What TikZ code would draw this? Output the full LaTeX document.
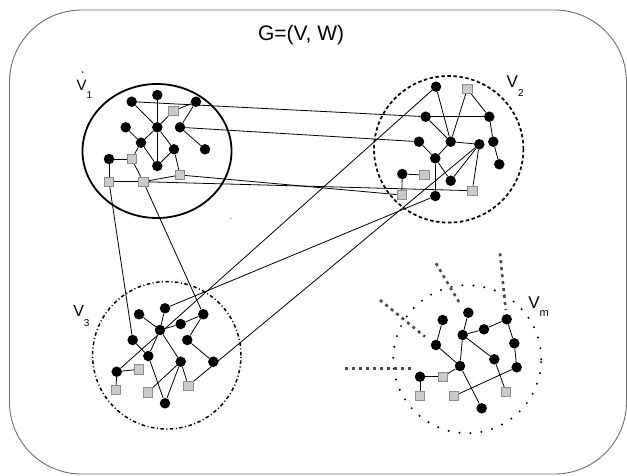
\documentclass[tikz,border=0pt]{standalone}
\usepackage{fontspec}
\setmainfont{Liberation Sans}
\usetikzlibrary{backgrounds}
\definecolor{sqfill}{HTML}{CACACA}
\definecolor{sqedge}{HTML}{8C8C8C}
\definecolor{framecol}{HTML}{6E6E6E}
\definecolor{stubcol}{HTML}{4A4A4A}
\tikzset{
  blk/.style={circle,fill=black,inner sep=0pt,minimum size=10.5pt},
  gsq/.style={rectangle,fill=sqfill,draw=sqedge,line width=0.7pt,inner sep=0pt,minimum size=9.5pt},
  link/.style={line width=0.8pt},
  lbl/.style={inner sep=0pt,outer sep=0pt,anchor=base west},
  stub/.style={line width=2.6pt,stubcol,dash pattern=on 3pt off 4pt},
  ringone/.style={line width=1.8pt},
  ringtwo/.style={line width=1.7pt,dash pattern=on 3.5pt off 2.5pt},
  ringthree/.style={line width=1.5pt,dash pattern=on 3.5pt off 2.5pt on 1pt off 2.5pt},
  ringm/.style={line width=2.2pt,line cap=round,dash pattern=on 0pt off 11pt},
}
\newcommand{\bigV}[3]{{\fontsize{#1}{#1}\selectfont V}{\fontsize{10}{10}\selectfont\raisebox{#2}{#3}}}
\begin{document}
\begin{tikzpicture}[x=1pt,y=-1pt]
\useasboundingbox (0,0) rectangle (627,475);

% outer frame and title
\draw[framecol,line width=0.9pt,rounded corners=72pt] (9.5,10) rectangle (626.5,474);
\node[lbl] (title) at (258,40) {\fontsize{21}{21}\selectfont G=(V, W)};

% cluster outlines
\draw[ringone]   (157,151)   ellipse [x radius=74.5pt, y radius=67pt];
\draw[ringtwo]   (448.7,149.3) ellipse [x radius=74.7pt, y radius=73.3pt];
\draw[ringthree] (166.8,355.3) ellipse [x radius=74.2pt, y radius=73.7pt];
\draw[ringm]     (467.2,359.2) circle [radius=74pt];

% cluster labels
\node[lbl] (lv1) at (76.7,90.7)  {\bigV{15}{-7.6pt}{1}};
\fill (82.7,72) circle [radius=0.8pt];
\fill[gray] (231,218.3) circle [radius=0.7pt];
\node[lbl] (lv2) at (506.7,87.3) {\bigV{17}{-8.7pt}{2}};
\node[lbl] (lv3) at (73.3,316.7) {\bigV{16}{-9.3pt}{3}};
\node[lbl] (lvm) at (528.3,308.3) {{\fontsize{17}{17}\selectfont V}{\fontsize{11}{11}\selectfont\raisebox{-7.7pt}{m}}};

% cluster V1
\node[blk] (a1) at (131.7,101.7) {};
\node[blk] (a2) at (157.3,95) {};
\node[blk] (a3) at (196,101.7) {};
\node[gsq] (s1) at (173.3,111) {};
\node[blk] (a4) at (157.3,127.3) {};
\node[blk] (a5) at (125.7,127.3) {};
\node[blk] (a6) at (180,127.3) {};
\node[blk] (a7) at (141,142.7) {};
\node[blk] (a8) at (174,149.3) {};
\node[blk] (a9) at (205,149.3) {};
\node[blk] (a10) at (157.3,166) {};
\node[blk] (a11) at (109,159) {};
\node[gsq] (s2) at (131.7,159) {};
\node[gsq] (s3) at (109,181.7) {};
\node[gsq] (s4) at (143.3,181.7) {};
\node[gsq] (s5) at (180,175) {};

% cluster V2
\node[blk] (b1) at (436,86.7) {};
\node[gsq] (q1) at (467.3,89) {};
\node[blk] (b2) at (425.7,116.7) {};
\node[blk] (b3) at (489.3,116.7) {};
\node[blk] (b4) at (419,141.7) {};
\node[blk] (b5) at (450.7,141.7) {};
\node[blk] (b6) at (479.3,144.3) {};
\node[blk] (b7) at (493.3,141.7) {};
\node[blk] (b8) at (435.3,158.3) {};
\node[blk] (b9) at (499.3,164.3) {};
\node[blk] (b10) at (402.3,174) {};
\node[gsq] (q2) at (424.3,175) {};
\node[blk] (b11) at (450.7,180.7) {};
\node[gsq] (q3) at (401.7,195) {};
\node[blk] (b12) at (435.3,196) {};
\node[gsq] (q4) at (472.3,190.7) {};

% cluster V3
\node[blk] (c1) at (165,308.3) {};
\node[blk] (c2) at (139,314.3) {};
\node[blk] (c3) at (203.3,314.3) {};
\node[blk] (c4) at (180.7,324) {};
\node[blk] (c5) at (160,330) {};
\node[blk] (c6) at (132.7,340) {};
\node[blk] (c7) at (187.3,340) {};
\node[blk] (c8) at (148.3,356) {};
\node[blk] (c9) at (180.7,361.7) {};
\node[blk] (c10) at (213.3,361.7) {};
\node[blk] (c11) at (116.7,371.7) {};
\node[gsq] (r1) at (139,369.3) {};
\node[gsq] (r2) at (116,390) {};
\node[gsq] (r3) at (147.7,392.3) {};
\node[gsq] (r4) at (188.3,385.7) {};
\node[blk] (c12) at (165,403.3) {};

% cluster Vm
\node[blk] (d1) at (468.3,312.7) {};
\node[blk] (d2) at (442.7,320) {};
\node[blk] (d3) at (506.7,319.3) {};
\node[blk] (d4) at (484,329.3) {};
\node[blk] (d5) at (462.7,335) {};
\node[blk] (d6) at (436,345) {};
\node[blk] (d7) at (514.3,343.3) {};
\node[blk] (d8) at (494.3,359.3) {};
\node[blk] (d9) at (460,366) {};
\node[blk] (d10) at (516.7,367.3) {};
\node[blk] (d11) at (420,376.7) {};
\node[gsq] (p1) at (442.7,376.7) {};
\node[gsq] (p2) at (420,396) {};
\node[gsq] (p3) at (454,396) {};
\node[gsq] (p4) at (506,392) {};
\node[blk] (d12) at (481.7,408.3) {};

% edges leaving Vm towards clusters not shown
\coordinate (u1a) at (345,368.3);  \coordinate (u1b) at (413.3,368.3);
\coordinate (u2a) at (380,300);    \coordinate (u2b) at (425,336.7);
\coordinate (u3a) at (436,263.3);  \coordinate (u3b) at (460.7,305);
\coordinate (u4a) at (500,253.3);  \coordinate (u4b) at (505.7,310);
\draw[stub] (u1a) -- (u1b);
\draw[stub] (u2a) -- (u2b);
\draw[stub] (u3a) -- (u3b);
\draw[stub] (u4a) -- (u4b);

\begin{scope}[on background layer]
  % inside V1
  \draw[link] (a1) -- (a4);  \draw[link] (a2) -- (a4);  \draw[link] (a4) -- (a10);
  \draw[link] (s1) -- (a4);  \draw[link] (s1) -- (a3);  \draw[link] (a3) -- (a6);
  \draw[link] (a6) -- (a9);  \draw[link] (a5) -- (a7);  \draw[link] (a7) -- (a4);
  \draw[link] (a7) -- (s2);  \draw[link] (a7) -- (a10); \draw[link] (a4) -- (a8);
  \draw[link] (a8) -- (a10); \draw[link] (a8) -- (s5);  \draw[link] (a11) -- (s2);
  \draw[link] (a11) -- (s3); \draw[link] (s3) -- (s4);  \draw[link] (s4) -- (s5);
  \draw[link] (s2) -- (s4);
  % inside V2
  \draw[link] (b1) -- (b5);  \draw[link] (q1) -- (b5);  \draw[link] (q1) -- (b3);
  \draw[link] (b2) -- (b5);  \draw[link] (b2) -- (b3);  \draw[link] (b3) -- (b7);
  \draw[link] (b7) -- (b9);  \draw[link] (b5) -- (b6);  \draw[link] (b4) -- (b8);
  \draw[link] (b5) -- (b8);  \draw[link] (b8) -- (b11); \draw[link] (b8) -- (b12);
  \draw[link] (b10) -- (q2); \draw[link] (b10) -- (q3); \draw[link] (b6) -- (q4);
  \draw[link] (b6) -- (b11);
  % inside V3
  \draw[link] (c1) -- (c5);  \draw[link] (c2) -- (c5);  \draw[link] (c5) -- (c4);
  \draw[link] (c4) -- (c3);  \draw[link] (c3) -- (c7);  \draw[link] (c7) -- (c10);
  \draw[link] (c5) -- (c8);  \draw[link] (c6) -- (c8);  \draw[link] (c8) -- (c12);
  \draw[link] (c5) -- (c9);  \draw[link] (c9) -- (c12); \draw[link] (c9) -- (r3);
  \draw[link] (c9) -- (r4);  \draw[link] (c11) -- (r1); \draw[link] (c11) -- (r2);
  % inside Vm
  \draw[link] (d2) -- (d6);  \draw[link] (d6) -- (d9);  \draw[link] (d1) -- (d5);
  \draw[link] (d5) -- (d4);  \draw[link] (d4) -- (d3);  \draw[link] (d3) -- (d7);
  \draw[link] (d7) -- (d10); \draw[link] (d5) -- (d9);  \draw[link] (d5) -- (d8);
  \draw[link] (d8) -- (p4);  \draw[link] (d9) -- (p1);  \draw[link] (d9) -- (d12);
  \draw[link] (d10) -- (p3); \draw[link] (d11) -- (p1); \draw[link] (d11) -- (p2);
  % between clusters
  \draw[link] (a1) -- (b2);  \draw[link] (a6) -- (b4);
  \draw[link] (s5) -- (q3);  \draw[link] (s4) -- (q4);
  \draw[link] (b1) -- (c11); \draw[link] (b12) -- (c1); \draw[link] (b6) -- (r4);
  \draw[link] (s3) -- (c6);  \draw[link] (s4) -- (c3);
\end{scope}
\end{tikzpicture}
\end{document}
